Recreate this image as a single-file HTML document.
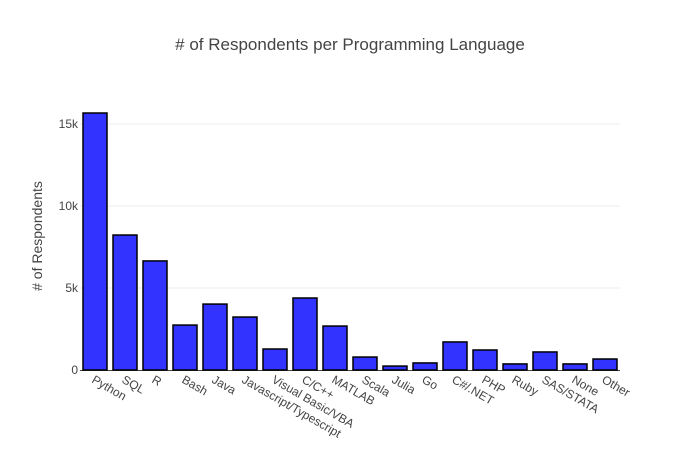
<!DOCTYPE html>
<html><head><meta charset="utf-8"><style>
body{margin:0;background:#fff;font-family:"Liberation Sans",sans-serif;}
</style></head><body>
<svg id="chart" width="700" height="450" style="display:block">
<text x="350" y="50" text-anchor="middle" font-size="17" fill="#444"># of Respondents per Programming Language</text>
<text transform="translate(42,236) rotate(-90)" text-anchor="middle" font-size="14" fill="#444"># of Respondents</text>
<g id="grid"></g><g id="bars"></g><g id="xlabels"></g>
</svg>
<script>
const categories=["Python","SQL","R","Bash","Java","Javascript/Typescript","Visual Basic/VBA","C/C++","MATLAB","Scala","Julia","Go","C#/.NET","PHP","Ruby","SAS/STATA","None","Other"];
const values=[15670,8230,6650,2740,4020,3230,1280,4390,2680,790,240,430,1710,1220,370,1100,370,670];
const yTicks=[0,5000,10000,15000];
const yTickLabels=["0","5k","10k","15k"];
const NS="http://www.w3.org/2000/svg";
const x0=80,x1=620,yBase=370,pxPerUnit=82/5000;
const band=(x1-x0)/categories.length;
const y=v=>yBase-v*pxPerUnit;
const xc=i=>x0+band*(i+0.5);
const grid=document.getElementById('grid'),bars=document.getElementById('bars'),xl=document.getElementById('xlabels');
yTicks.forEach((t,i)=>{
  if(t>0){const l=document.createElementNS(NS,'line');
  l.setAttribute('x1',x0);l.setAttribute('x2',x1);l.setAttribute('y1',y(t));l.setAttribute('y2',y(t));
  l.setAttribute('stroke','#eee');l.setAttribute('stroke-width','1');
  
  
  grid.appendChild(l);}
  const tx=document.createElementNS(NS,'text');
  tx.setAttribute('x',x0-2);tx.setAttribute('y',y(t)+4);tx.setAttribute('text-anchor','end');
  tx.setAttribute('font-size','12');tx.setAttribute('fill','#444');tx.textContent=yTickLabels[i];
  
  
  grid.appendChild(tx);
});
const ax=document.createElementNS(NS,'line');
ax.setAttribute('x1',x0);ax.setAttribute('x2',x1);ax.setAttribute('y1',yBase+0.5);ax.setAttribute('y2',yBase+0.5);
ax.setAttribute('stroke','#444');ax.setAttribute('stroke-width','1');


grid.appendChild(ax);
const bw=band*0.8;
categories.forEach((c,i)=>{
  const r=document.createElementNS(NS,'rect');
  r.setAttribute('x',xc(i)-bw/2);r.setAttribute('width',bw);
  r.setAttribute('y',y(values[i]));r.setAttribute('height',yBase-y(values[i]));
  r.setAttribute('fill','#3333ff');r.setAttribute('stroke','#000');r.setAttribute('stroke-width','1.5');
  
  
  bars.appendChild(r);
  const t=document.createElementNS(NS,'text');
  t.setAttribute('transform','translate('+(xc(i)-4)+','+(yBase+12)+') rotate(30)');
  t.setAttribute('font-size','12');t.setAttribute('fill','#444');t.textContent=c;
  
  
  xl.appendChild(t);
});
</script>
</body></html>
